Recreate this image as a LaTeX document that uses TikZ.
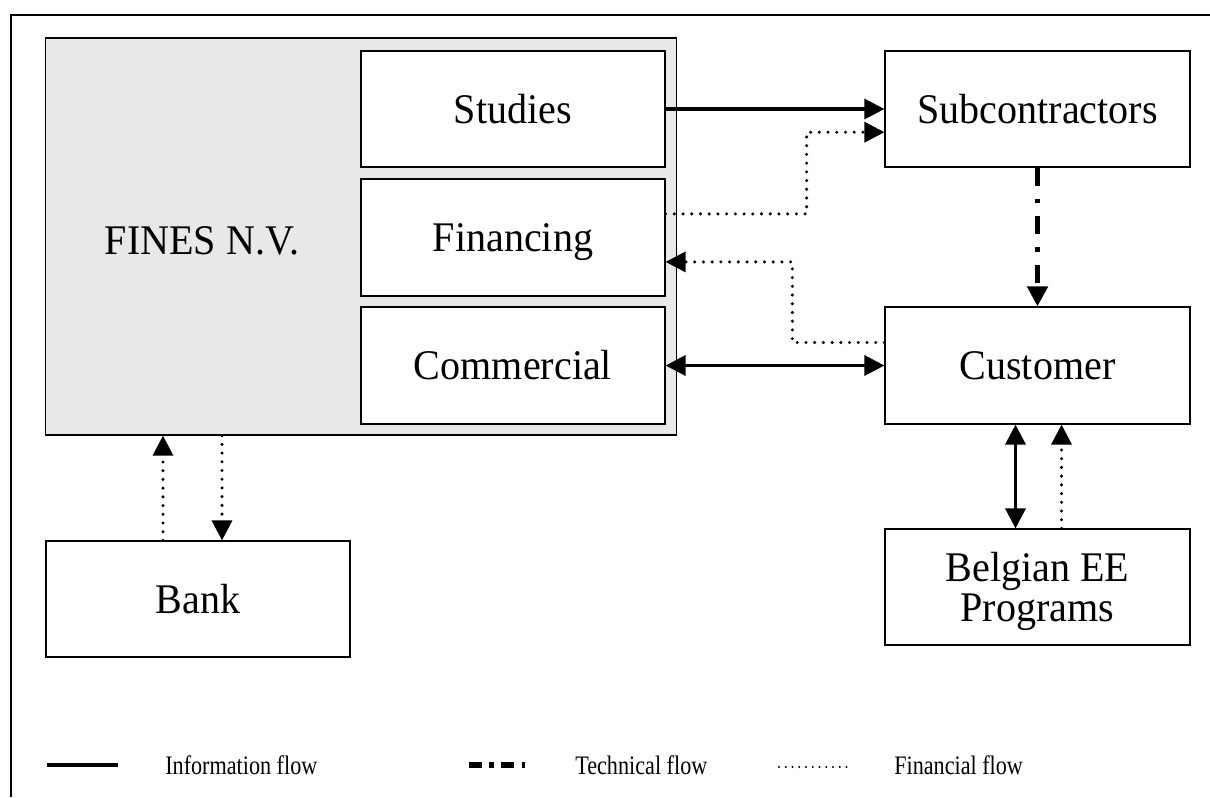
\documentclass[tikz,border=0pt]{standalone}
\usepackage{fontspec}
\setmainfont{Liberation Serif}
\newfontfamily\boxfamily[FakeStretch=0.95]{Liberation Serif}
\newfontfamily\keyfamily[FakeStretch=0.83]{Liberation Serif}
\usepackage{tikz}
\usetikzlibrary{arrows.meta,positioning,calc}
\newcommand{\boxfont}{\boxfamily\fontsize{30}{28.5}\selectfont}
\newcommand{\keyfont}{\keyfamily\fontsize{19}{20}\selectfont}

\begin{document}
\begin{tikzpicture}[
    x=0.025cm, y=-0.025cm,
    >={Triangle[length=0.5cm,width=0.5cm]},
    unit/.style={draw, line width=0.8pt, fill=white, minimum width=7.6cm, minimum height=2.9cm, inner sep=0pt, font=\boxfont, align=center},
    oneline/.style={unit, text height=22pt, text depth=2pt},
    info/.style={line width=2.4pt},
    tech/.style={line width=3.4pt, dash pattern=on 13pt off 9pt on 3.5pt off 9pt},
    money/.style={line width=2.4pt, line cap=round, dash pattern=on 0pt off 6.2pt},
    keytext/.style={font=\keyfont, anchor=west, inner sep=0pt}
]
    \useasboundingbox (0,0) rectangle (1210,797);

    % outer frame (only top and left edge show)
    \draw[line width=1.5pt] (11,797) -- (11,15) -- (1210,15);

    % FINES N.V. with its departments
    \node[draw, line width=0.8pt, fill=gray!18, minimum width=15.75cm, minimum height=9.925cm, inner sep=0pt] (fines) at (361,236.5) {};
    \node[font=\boxfont, text height=22pt, text depth=2pt] (fineslabel) at (202,240) {FINES N.V.};
    \node[oneline] (studies) at (513,109) {Studies};
    \node[oneline, minimum height=2.925cm] (financing) at (513,237.5) {Financing};
    \node[oneline, minimum height=2.925cm] (commercial) at (513,365.5) {Commercial};

    % outside parties
    \node[oneline, minimum width=7.625cm] (subcon) at (1037.5,109) {Subcontractors};
    \node[oneline, minimum width=7.625cm, minimum height=2.925cm] (customer) at (1037.5,365.5) {Customer};
    \node[unit, minimum width=7.625cm] (belgian) at (1037.5,587) {};
    \node[font=\boxfont, align=center, inner sep=0pt] (belgiantext) at (1037.5,591) {Belgian EE\\Programs};
    \node[oneline] (bank) at (198,599) {Bank};

    % flows
    \draw[info,->] (studies.east) -- (subcon.west);
    \draw[money,->] ([yshift=0.59cm]financing.east) -- ++(3.525cm,0) |- ([yshift=-0.58cm]subcon.west);
    \draw[money,->] ([yshift=0.575cm]customer.west) -- ++(-2.3cm,0) |- ([yshift=-0.61cm]financing.east);
    \draw[info,<->] (commercial.east) -- (customer.west);
    \draw[tech,->] (subcon.south) -- (customer.north);
    \draw[info,<->] ([xshift=-0.55cm]customer.south) -- ([xshift=-0.55cm]belgian.north);
    \draw[money,->] ([xshift=0.6cm]belgian.north) -- ([xshift=0.6cm]customer.south);
    \draw[money,->] ([xshift=-0.875cm]bank.north) -- ([xshift=-0.875cm]bank.north |- fines.south);
    \draw[money,->] ([xshift=0.6cm]bank.north |- fines.south) -- ([xshift=0.6cm]bank.north);

    % legend
    \node[keytext] (keyinfo) at (165,765) {Information flow};
    \node[keytext] (keytech) at (575,765) {Technical flow};
    \node[keytext] (keymoney) at (894,765) {Financial flow};
    \draw[line width=3pt] (47,765) -- (118,765);
    \draw[line width=4pt, dash pattern=on 9pt off 5.5pt on 3pt off 5.5pt] (469,765) -- (525,765);
    \draw[line width=1.6pt, line cap=round, dash pattern=on 0pt off 4.8pt] (779,767) -- (848,767);

\end{tikzpicture}
\end{document}
